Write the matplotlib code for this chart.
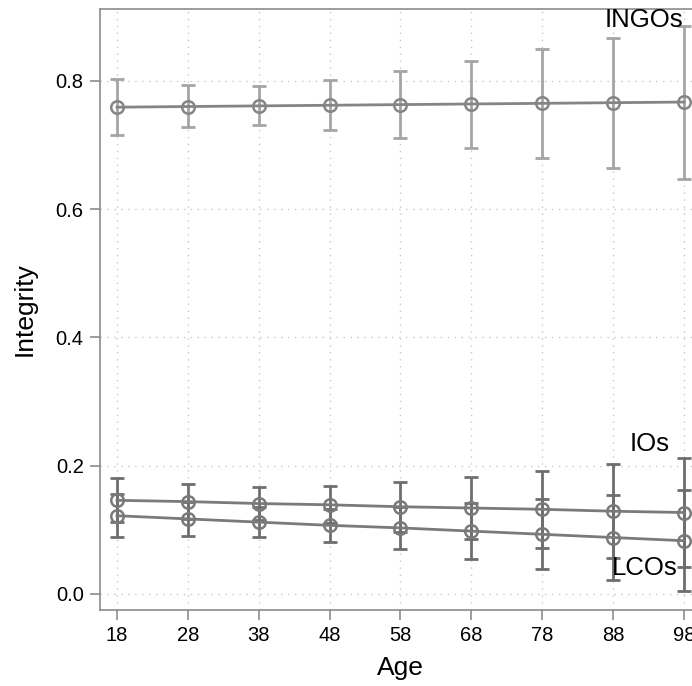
import matplotlib.pyplot as plt

plt.rcParams['font.family'] = ['Liberation Sans', 'DejaVu Sans']

ages = [18, 28, 38, 48, 58, 68, 78, 88, 98]

ingos_mean = [0.759, 0.760, 0.761, 0.762, 0.763, 0.764, 0.765, 0.766, 0.767]
ingos_hi = [0.803, 0.794, 0.792, 0.801, 0.816, 0.831, 0.850, 0.867, 0.886]
ingos_lo = [0.716, 0.728, 0.731, 0.724, 0.711, 0.696, 0.680, 0.664, 0.647]

ios_mean = [0.146, 0.144, 0.141, 0.139, 0.136, 0.134, 0.132, 0.129, 0.127]
ios_hi = [0.181, 0.171, 0.166, 0.168, 0.175, 0.183, 0.192, 0.203, 0.212]
ios_lo = [0.112, 0.117, 0.116, 0.110, 0.097, 0.086, 0.072, 0.056, 0.042]

lcos_mean = [0.122, 0.117, 0.112, 0.107, 0.103, 0.098, 0.093, 0.088, 0.083]
lcos_hi = [0.156, 0.143, 0.135, 0.133, 0.136, 0.142, 0.148, 0.154, 0.162]
lcos_lo = [0.089, 0.091, 0.089, 0.081, 0.070, 0.055, 0.039, 0.022, 0.005]

fig = plt.figure(figsize=(6.92, 6.86), dpi=100)
ax = fig.add_axes([0.1445, 0.1108, 0.8685, 0.876])


def draw(mean, lo, hi, line_col, bar_col):
    err = [[m - l for m, l in zip(mean, lo)], [h - m for m, h in zip(mean, hi)]]
    ax.errorbar(ages, mean, yerr=err, fmt='none', ecolor=bar_col,
                elinewidth=2, capsize=5, capthick=2, zorder=2)
    ax.plot(ages, mean, color=line_col, lw=2, marker='o', markersize=9,
            markerfacecolor='none', markeredgewidth=1.8, zorder=3)


draw(ingos_mean, ingos_lo, ingos_hi, '#858585', '#a5a5a5')
draw(ios_mean, ios_lo, ios_hi, '#7a7a7a', '#6e6e6e')
draw(lcos_mean, lcos_lo, lcos_hi, '#7a7a7a', '#6e6e6e')

ax.text(97.9, 0.895, 'INGOs', ha='right', va='center', fontsize=18.5)
ax.text(93.1, 0.234, 'IOs', ha='center', va='center', fontsize=18.5)
ax.text(92.4, 0.041, 'LCOs', ha='center', va='center', fontsize=18.5)

ax.set_xlim(15.6, 100.4)
ax.set_ylim(-0.025, 0.912)
ax.set_xticks(ages)
ax.set_yticks([0, 0.2, 0.4, 0.6, 0.8])
ax.set_yticklabels(['0.0', '0.2', '0.4', '0.6', '0.8'])
ax.grid(True, linestyle=(0, (1, 4)), color='#c8c8c8', lw=1)
ax.set_axisbelow(True)

for s in ['left', 'bottom', 'top']:
    ax.spines[s].set_color('#8c8c8c')
    ax.spines[s].set_linewidth(1.2)
ax.spines['right'].set_visible(False)
ax.tick_params(direction='out', length=7.2, width=1.2, color='#8c8c8c',
               labelsize=14.5, pad=4.5)

ax.set_xlabel('Age', fontsize=19, labelpad=8)
ax.set_ylabel('Integrity', fontsize=19, labelpad=14)

fig.savefig('out.png', dpi=100)
